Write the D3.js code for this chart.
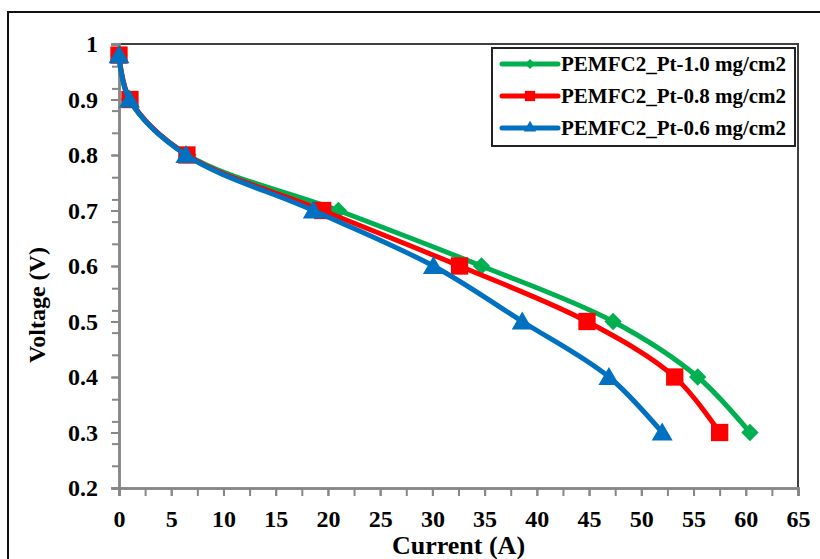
<!DOCTYPE html>
<html>
<head>
<meta charset="utf-8">
<script src="https://cdn.jsdelivr.net/npm/d3@7/dist/d3.min.js"></script>
<style>
  body { margin: 0; background: #fff; }
  svg text { font-family: "Liberation Serif", "Times New Roman", serif; font-weight: bold; }
</style>
</head>
<body>
<div id="chart"></div>
<script>
// voltage levels (V) shared by all three curves
var voltage = [0.98, 0.9, 0.8, 0.7, 0.6, 0.5, 0.4, 0.3];
// current (A) for each loading
var currentPt10 = [0, 1.0, 6.6, 21.0, 34.7, 47.3, 55.4, 60.4];
var currentPt08 = [0, 1.05, 6.5, 19.5, 32.6, 44.8, 53.2, 57.5];
var currentPt06 = [0, 1.0, 6.4, 18.6, 30.1, 38.6, 46.9, 52.0];
var seriesNames = ["PEMFC2_Pt-1.0 mg/cm2", "PEMFC2_Pt-0.8 mg/cm2", "PEMFC2_Pt-0.6 mg/cm2"];
var xTicks = [0, 5, 10, 15, 20, 25, 30, 35, 40, 45, 50, 55, 60, 65];
var yTicks = [0.2, 0.3, 0.4, 0.5, 0.6, 0.7, 0.8, 0.9, 1];

(function () {
  var W = 820, H = 559;
  var svg = d3.select("#chart").append("svg").attr("width", W).attr("height", H);

  // outer frame of the figure
  svg.append("rect").attr("x", 8).attr("y", 12).attr("width", W).attr("height", H)
    .attr("fill", "none").attr("stroke", "#111").attr("stroke-width", 2);

  var pL = 119, pR = 798, pT = 44, pB = 488;
  var x = d3.scaleLinear().domain([0, 65]).range([pL, pR]);
  var y = d3.scaleLinear().domain([0.2, 1]).range([pB, pT]);

  // top and right border of plot area
  svg.append("path")
    .attr("d", "M" + pL + "," + pT + "H" + pR + "V" + pB)
    .attr("fill", "none").attr("stroke", "#404040").attr("stroke-width", 2);

  // minor ticks
  var xMinor = d3.range(0, 65.01, 2.5);
  var yMinor = d3.range(0.2, 1.001, 0.04);
  var gx = svg.append("g").attr("transform", "translate(0," + pB + ")");
  gx.call(d3.axisBottom(x).tickValues(xMinor).tickSize(8).tickFormat(""));
  var gy = svg.append("g").attr("transform", "translate(" + pL + ",0)");
  gy.call(d3.axisLeft(y).tickValues(yMinor).tickSize(7).tickFormat(""));

  // major ticks + labels
  var gx2 = svg.append("g").attr("transform", "translate(0," + pB + ")")
    .call(d3.axisBottom(x).tickValues(xTicks).tickSize(8).tickPadding(14));
  var gy2 = svg.append("g").attr("transform", "translate(" + pL + ",0)")
    .call(d3.axisLeft(y).tickValues(yTicks).tickSize(8).tickPadding(14)
      .tickFormat(function (d) { return d === 1 ? "1" : d.toFixed(1); }));

  [gx, gy, gx2, gy2].forEach(function (g) {
    g.selectAll(".domain").attr("stroke", "#878787").attr("stroke-width", 2.5);
    g.selectAll(".tick line").attr("stroke", "#878787").attr("stroke-width", 2);
    g.selectAll(".tick text").attr("fill", "#000").style("font-size", "24px")
      .style("font-family", "'Liberation Serif', serif").style("font-weight", "bold");
  });
  gx2.selectAll(".tick text").attr("dy", "0.71em").attr("y", 22);
  gy2.selectAll(".tick text").attr("x", -21);

  // axis titles
  svg.append("text").attr("x", (pL + pR) / 2).attr("y", 554)
    .attr("text-anchor", "middle").style("font-size", "26px").text("Current (A)");
  svg.append("text").attr("transform", "translate(45,305) rotate(-90)")
    .attr("text-anchor", "middle").style("font-size", "24px").text("Voltage (V)");

  var colors = ["#00B050", "#FF0000", "#0070C0"];
  var symbols = [d3.symbolSquare, d3.symbolSquare, d3.symbolTriangle];
  var symSizes = [150, 300, 190];
  var rotations = [45, 0, 0];
  var currents = [currentPt10, currentPt08, currentPt06];

  var line = d3.line()
    .x(function (d) { return x(d[0]); })
    .y(function (d) { return y(d[1]); })
    .curve(d3.curveCatmullRom.alpha(0.5));

  currents.forEach(function (cur, i) {
    var pts = cur.map(function (c, k) { return [c, voltage[k]]; });
    svg.append("path").datum(pts).attr("d", line)
      .attr("fill", "none").attr("stroke", colors[i]).attr("stroke-width", 5)
      .attr("stroke-linejoin", "round");
    svg.selectAll(".m" + i).data(pts).enter().append("path")
      .attr("class", "m" + i)
      .attr("transform", function (d) {
        return "translate(" + x(d[0]) + "," + (y(d[1]) + (i === 2 ? 2 : 0)) + ") rotate(" + rotations[i] + ")";
      })
      .attr("d", d3.symbol().type(symbols[i]).size(symSizes[i]))
      .attr("fill", colors[i]);
  });

  // legend
  var lg = svg.append("g");
  lg.append("rect").attr("x", 492).attr("y", 48).attr("width", 303).attr("height", 98)
    .attr("fill", "#fff").attr("stroke", "#222").attr("stroke-width", 2);
  seriesNames.forEach(function (name, i) {
    var ly = 64 + i * 32;
    lg.append("line").attr("x1", 502).attr("x2", 558).attr("y1", ly).attr("y2", ly)
      .attr("stroke", colors[i]).attr("stroke-width", 5).attr("stroke-linecap", "round");
    lg.append("path").attr("transform", "translate(530," + ly + ") rotate(" + rotations[i] + ")")
      .attr("d", d3.symbol().type(symbols[i]).size(symSizes[i] * 0.35))
      .attr("fill", colors[i]);
    lg.append("text").attr("x", 561).attr("y", ly + 7)
      .style("font-size", "21px").text(name);
  });
})();
</script>
</body>
</html>
